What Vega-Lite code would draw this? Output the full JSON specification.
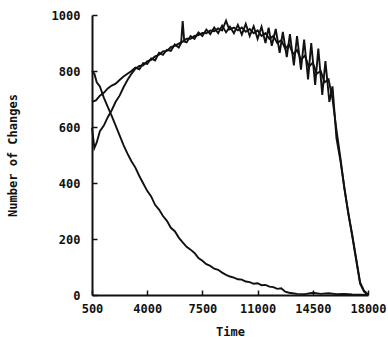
{
  "$schema": "https://vega.github.io/schema/vega-lite/v6.json",
  "width": 276,
  "height": 280,
  "autosize": {"type": "none"},
  "padding": {"left": 92, "top": 15, "right": 20, "bottom": 42},
  "background": "white",
  "config": {"view": {"stroke": null}},
  "datasets": {
    "A": [
      {"t":500,"v":800},{"t":650,"v":790},{"t":800,"v":760},{"t":1000,"v":745},{"t":1250,"v":705},{"t":1500,"v":672},{"t":1750,"v":640},{"t":2000,"v":605},{"t":2250,"v":570},{"t":2500,"v":535},{"t":2750,"v":505},{"t":3000,"v":478},{"t":3250,"v":455},{"t":3500,"v":425},{"t":3750,"v":398},{"t":4000,"v":372},{"t":4250,"v":352},{"t":4500,"v":322},{"t":4750,"v":305},{"t":5000,"v":282},{"t":5250,"v":265},{"t":5500,"v":240},{"t":5750,"v":228},{"t":6000,"v":205},{"t":6250,"v":188},{"t":6500,"v":172},{"t":6750,"v":162},{"t":7000,"v":150},{"t":7250,"v":132},{"t":7500,"v":122},{"t":7750,"v":110},{"t":8000,"v":104},{"t":8250,"v":94},{"t":8500,"v":90},{"t":8750,"v":80},{"t":9000,"v":72},{"t":9250,"v":66},{"t":9500,"v":62},{"t":9750,"v":56},{"t":10000,"v":55},{"t":10250,"v":48},{"t":10500,"v":46},{"t":10750,"v":40},{"t":11000,"v":42},{"t":11250,"v":35},{"t":11500,"v":36},{"t":11750,"v":30},{"t":12000,"v":28},{"t":12250,"v":22},{"t":12500,"v":24},{"t":12750,"v":12},{"t":13000,"v":8},{"t":13500,"v":4},{"t":14000,"v":3},{"t":14500,"v":8},{"t":15000,"v":4},{"t":15500,"v":6},{"t":16000,"v":3},{"t":16500,"v":4},{"t":17000,"v":2},{"t":17500,"v":1},{"t":18000,"v":0}
    ],
    "B": [
      {"t":500,"v":690},{"t":750,"v":695},{"t":1000,"v":712},{"t":1250,"v":722},{"t":1500,"v":738},{"t":1750,"v":748},{"t":2000,"v":755},{"t":2250,"v":768},{"t":2500,"v":780},{"t":2750,"v":790},
      {"t":3000,"v":800},{"t":3250,"v":812},{"t":3500,"v":806},{"t":3750,"v":828},{"t":4000,"v":825},{"t":4250,"v":845},{"t":4500,"v":838},{"t":4750,"v":865},{"t":5000,"v":858},{"t":5250,"v":876},{"t":5500,"v":872},{"t":5750,"v":895},{"t":6000,"v":884},{"t":6150,"v":900},{"t":6250,"v":978},{"t":6350,"v":905},{"t":6500,"v":902},{"t":6750,"v":925},{"t":7000,"v":915},{"t":7250,"v":938},{"t":7500,"v":925},{"t":7750,"v":948},{"t":8000,"v":932},{"t":8250,"v":955},{"t":8500,"v":935},{"t":8750,"v":962},{"t":9000,"v":938},{"t":9250,"v":958},{"t":9500,"v":935},{"t":9750,"v":965},{"t":10000,"v":930},{"t":10250,"v":968},{"t":10500,"v":925},{"t":10750,"v":960},{"t":11000,"v":915},{"t":11250,"v":958},{"t":11500,"v":900},{"t":11700,"v":955},{"t":11900,"v":890},{"t":12150,"v":950},{"t":12400,"v":865},{"t":12600,"v":940},{"t":12850,"v":850},{"t":13050,"v":932},{"t":13300,"v":820},{"t":13500,"v":925},{"t":13750,"v":805},{"t":13950,"v":912},{"t":14200,"v":770},{"t":14400,"v":900},{"t":14650,"v":750},{"t":14850,"v":880},{"t":15100,"v":715},{"t":15300,"v":835},{"t":15550,"v":690},{"t":15750,"v":745},{"t":16000,"v":560},{"t":16250,"v":480},{"t":16500,"v":385},{"t":16750,"v":290},{"t":17000,"v":215},{"t":17250,"v":130},{"t":17500,"v":45},{"t":17750,"v":15},{"t":18000,"v":2}
    ],
    "C": [
      {"t":500,"v":598},{"t":650,"v":525},{"t":800,"v":545},{"t":1000,"v":585},{"t":1250,"v":605},{"t":1500,"v":635},{"t":1750,"v":660},{"t":2000,"v":690},{"t":2250,"v":712},{"t":2500,"v":742},{"t":2750,"v":768},
      {"t":3000,"v":790},{"t":3250,"v":808},{"t":3500,"v":818},{"t":3750,"v":820},{"t":4000,"v":835},{"t":4250,"v":840},{"t":4500,"v":852},{"t":4750,"v":858},{"t":5000,"v":870},{"t":5250,"v":872},{"t":5500,"v":885},{"t":5750,"v":890},{"t":6000,"v":898},{"t":6250,"v":905},{"t":6500,"v":915},{"t":6750,"v":915},{"t":7000,"v":925},{"t":7250,"v":928},{"t":7500,"v":936},{"t":7750,"v":935},{"t":8000,"v":945},{"t":8250,"v":942},{"t":8500,"v":952},{"t":8750,"v":945},{"t":9000,"v":980},{"t":9200,"v":948},{"t":9500,"v":955},{"t":9750,"v":945},{"t":10000,"v":955},{"t":10250,"v":940},{"t":10500,"v":950},{"t":10750,"v":935},{"t":11000,"v":945},{"t":11250,"v":925},{"t":11500,"v":935},{"t":11750,"v":915},{"t":12000,"v":925},{"t":12250,"v":900},{"t":12500,"v":910},{"t":12750,"v":880},{"t":13000,"v":895},{"t":13250,"v":860},{"t":13500,"v":875},{"t":13750,"v":840},{"t":14000,"v":855},{"t":14250,"v":815},{"t":14500,"v":830},{"t":14750,"v":790},{"t":15000,"v":800},{"t":15250,"v":760},{"t":15500,"v":770},{"t":15750,"v":700},{"t":16000,"v":590},{"t":16250,"v":490},{"t":16500,"v":380},{"t":16750,"v":295},{"t":17000,"v":210},{"t":17250,"v":125},{"t":17500,"v":40},{"t":17750,"v":12},{"t":18000,"v":0}
    ]
  },
  "layer": [
    {"data": {"name": "A"}, "mark": {"type": "line", "color": "#111", "strokeWidth": 1.9}, "encoding": {"x": {"field": "t", "type": "quantitative"}, "y": {"field": "v", "type": "quantitative"}}},
    {"data": {"name": "B"}, "mark": {"type": "line", "color": "#111", "strokeWidth": 1.9}, "encoding": {"x": {"field": "t", "type": "quantitative"}, "y": {"field": "v", "type": "quantitative"}}},
    {"data": {"name": "C"}, "mark": {"type": "line", "color": "#111", "strokeWidth": 1.9}, "encoding": {"x": {"field": "t", "type": "quantitative"}, "y": {"field": "v", "type": "quantitative"}}}
  ],
  "encoding": {
    "x": {
      "field": "t", "type": "quantitative",
      "scale": {"domain": [500, 18000], "nice": false, "zero": false},
      "axis": {"title": "Time", "values": [500, 4000, 7500, 11000, 14500, 18000], "format": "d", "grid": false,
        "labelOverlap": false, "labelFlush": false, "ticks": true,
        "domainColor": "#111", "domainWidth": 2, "tickColor": "#111", "tickSize": -5, "tickWidth": 1.5,
        "labelFont": "DejaVu Sans Mono", "labelFontWeight": "bold", "labelFontSize": 12, "labelColor": "#111", "labelPadding": 13,
        "titleFont": "DejaVu Sans Mono", "titleFontWeight": "bold", "titleFontSize": 12, "titleColor": "#111", "titlePadding": 12}
    },
    "y": {
      "field": "v", "type": "quantitative",
      "scale": {"domain": [0, 1000], "nice": false},
      "axis": {"title": "Number of Changes", "values": [0, 200, 400, 600, 800, 1000], "format": "d", "grid": false,
        "labelOverlap": false, "labelFlush": false, "ticks": true,
        "domainColor": "#111", "domainWidth": 2, "tickColor": "#111", "tickSize": -5, "tickWidth": 1.5,
        "labelFont": "DejaVu Sans Mono", "labelFontWeight": "bold", "labelFontSize": 12, "labelColor": "#111", "labelPadding": 17,
        "titleFont": "DejaVu Sans Mono", "titleFontWeight": "bold", "titleFontSize": 12, "titleColor": "#111", "titlePadding": 32}
    }
  }
}
